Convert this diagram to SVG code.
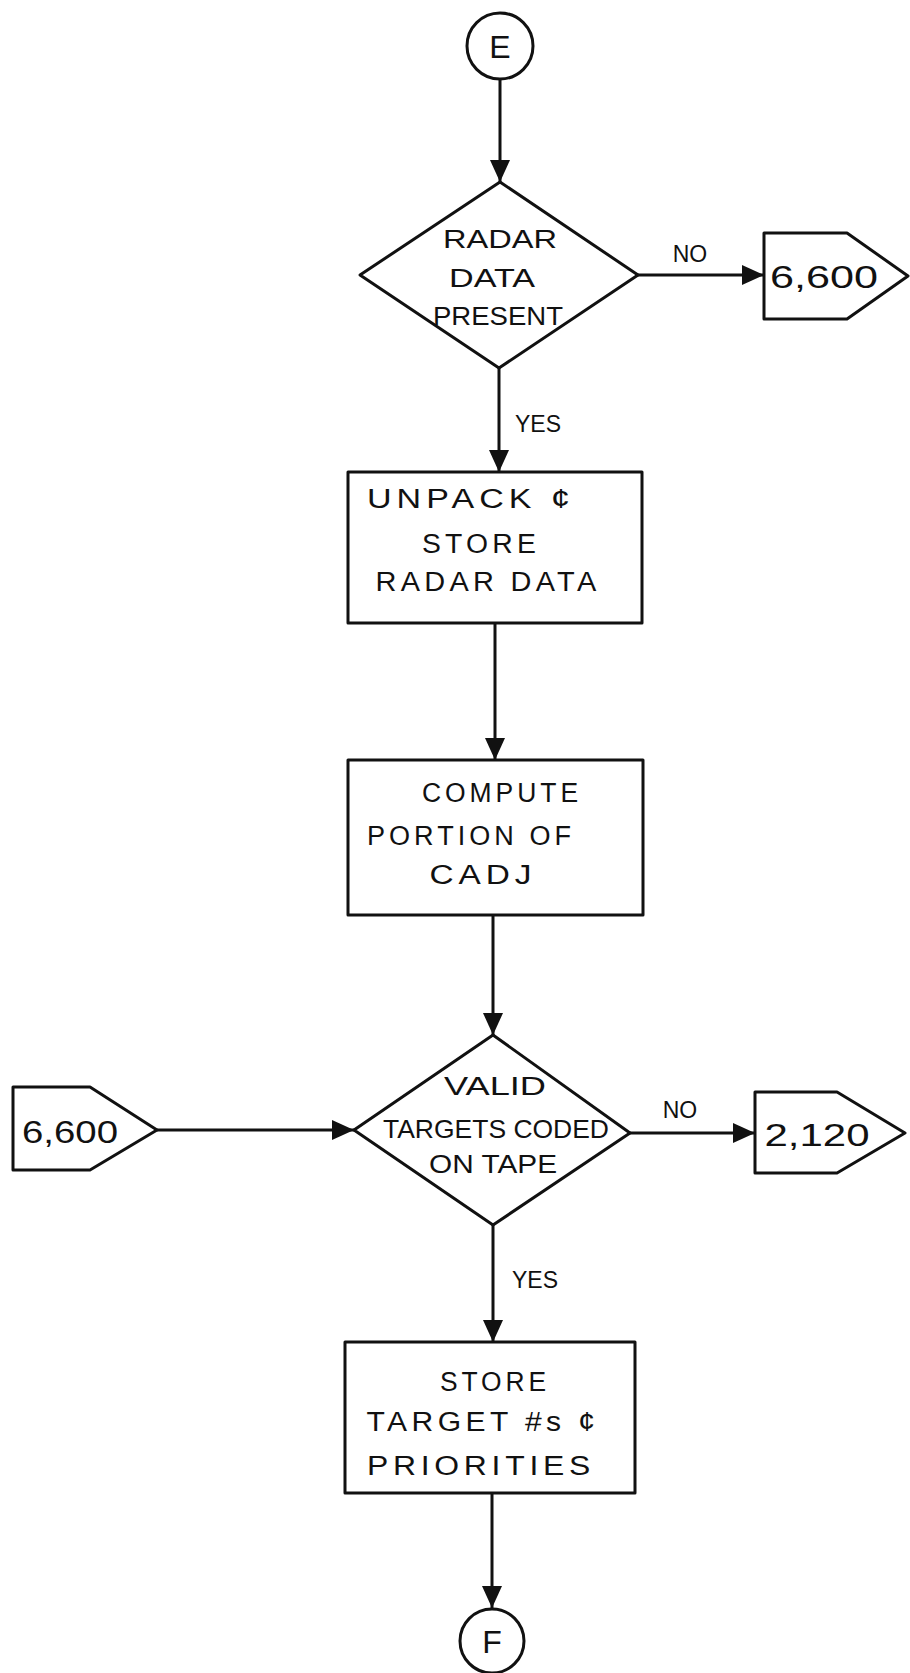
<svg xmlns="http://www.w3.org/2000/svg" width="910" height="1673" viewBox="0 0 910 1673">
  <defs>
    <marker id="arrow" markerUnits="userSpaceOnUse" markerWidth="22" markerHeight="20" refX="22" refY="10" orient="auto">
      <path d="M0,0 L22,10 L0,20 Z" fill="#111"/>
    </marker>
    <style>
      .shape { fill: #fff; stroke: #111; stroke-width: 3; stroke-linejoin: round; }
      .conn { fill: none; stroke: #111; stroke-width: 3; marker-end: url(#arrow); }
      .txt { font-family: "Liberation Sans", "DejaVu Sans", sans-serif; font-size: 25px; fill: #111; text-anchor: middle; }
      .box { font-family: "Liberation Sans", "DejaVu Sans", sans-serif; font-size: 27px; letter-spacing: 4px; fill: #111; text-anchor: middle; }
      .num { font-family: "Liberation Sans", "DejaVu Sans", sans-serif; font-size: 32px; fill: #111; text-anchor: middle; }
      .lbl { font-family: "Liberation Sans", "DejaVu Sans", sans-serif; font-size: 23px; fill: #111; text-anchor: middle; }
    </style>
  </defs>
  <rect width="910" height="1673" fill="#fff"/>

  <g id="connectors">
    <path class="conn" d="M500,79 L500,182"/>
    <path class="conn" d="M638,275 L764,275"/>
    <path class="conn" d="M499,368 L499,472"/>
    <path class="conn" d="M495,623 L495,760"/>
    <path class="conn" d="M493,915 L493,1035"/>
    <path class="conn" d="M157,1130 L354,1130"/>
    <path class="conn" d="M630,1133 L755,1133"/>
    <path class="conn" d="M493,1225 L493,1342"/>
    <path class="conn" d="M492,1493 L492,1608"/>
    <text class="lbl" x="690" y="262">NO</text>
    <text class="lbl" x="538" y="432">YES</text>
    <text class="lbl" x="680" y="1118">NO</text>
    <text class="lbl" x="535" y="1288">YES</text>
  </g>

  <g id="start-E">
    <circle class="shape" cx="500" cy="46" r="33"/>
    <text class="num" x="500" y="58" font-size="32">E</text>
  </g>

  <g id="decision-radar">
    <polygon class="shape" points="500,182 638,275 499,368 360,275"/>
    <text class="txt" x="500" y="248" textLength="114" lengthAdjust="spacingAndGlyphs">RADAR</text>
    <text class="txt" x="492" y="287" textLength="86" lengthAdjust="spacingAndGlyphs">DATA</text>
    <text class="txt" x="498" y="325" textLength="130" lengthAdjust="spacingAndGlyphs">PRESENT</text>
  </g>

  <g id="offpage-6600-top">
    <polygon class="shape" points="764,233 847,233 908,276 847,319 764,319"/>
    <text class="num" x="824" y="288" textLength="108" lengthAdjust="spacingAndGlyphs">6,600</text>
  </g>

  <g id="box-unpack">
    <rect class="shape" x="348" y="472" width="294" height="151"/>
    <text class="box" x="471" y="508" textLength="208" lengthAdjust="spacingAndGlyphs">UNPACK ¢</text>
    <text class="box" x="481" y="553" textLength="118" lengthAdjust="spacingAndGlyphs">STORE</text>
    <text class="box" x="488" y="591" textLength="225" lengthAdjust="spacingAndGlyphs">RADAR DATA</text>
  </g>

  <g id="box-compute">
    <rect class="shape" x="348" y="760" width="295" height="155"/>
    <text class="box" x="502" y="802" textLength="160" lengthAdjust="spacingAndGlyphs">COMPUTE</text>
    <text class="box" x="471" y="845" textLength="208" lengthAdjust="spacingAndGlyphs">PORTION OF</text>
    <text class="box" x="483" y="884" textLength="107" lengthAdjust="spacingAndGlyphs">CADJ</text>
  </g>

  <g id="decision-valid">
    <polygon class="shape" points="493,1035 630,1133 493,1225 354,1130"/>
    <text class="txt" x="495" y="1095" textLength="102" lengthAdjust="spacingAndGlyphs">VALID</text>
    <text class="txt" x="496" y="1138" textLength="226" lengthAdjust="spacingAndGlyphs">TARGETS CODED</text>
    <text class="txt" x="493" y="1173" textLength="128" lengthAdjust="spacingAndGlyphs">ON TAPE</text>
  </g>

  <g id="offpage-6600-left">
    <polygon class="shape" points="13,1087 90,1087 157,1130 90,1170 13,1170"/>
    <text class="num" x="70" y="1143" textLength="96" lengthAdjust="spacingAndGlyphs">6,600</text>
  </g>

  <g id="offpage-2120">
    <polygon class="shape" points="755,1092 837,1092 905,1133 837,1173 755,1173"/>
    <text class="num" x="817" y="1146" textLength="105" lengthAdjust="spacingAndGlyphs">2,120</text>
  </g>

  <g id="box-store">
    <rect class="shape" x="345" y="1342" width="290" height="151"/>
    <text class="box" x="495" y="1391" textLength="110" lengthAdjust="spacingAndGlyphs">STORE</text>
    <text class="box" x="483" y="1431" textLength="233" lengthAdjust="spacingAndGlyphs">TARGET #s ¢</text>
    <text class="box" x="481" y="1475" textLength="228" lengthAdjust="spacingAndGlyphs">PRIORITIES</text>
  </g>

  <g id="end-F">
    <circle class="shape" cx="492" cy="1641" r="32"/>
    <text class="num" x="492" y="1653" font-size="32">F</text>
  </g>
</svg>
